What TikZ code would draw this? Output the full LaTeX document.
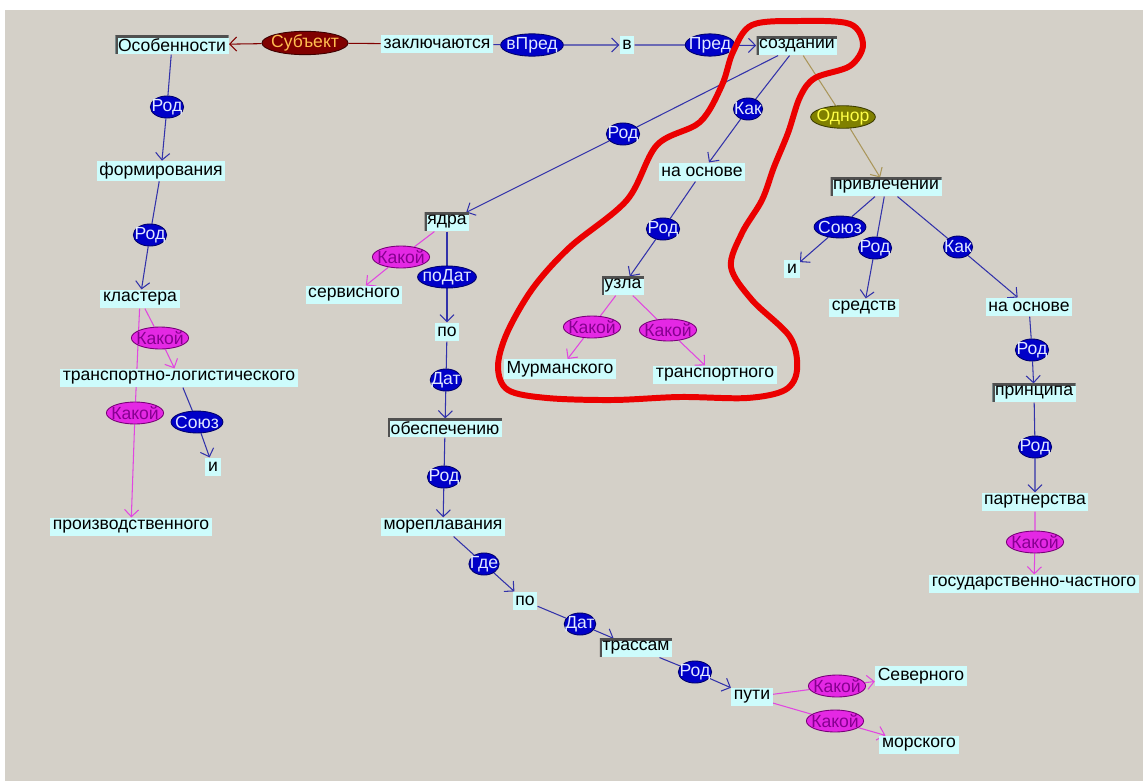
\documentclass[tikz,border=0pt]{standalone}
\usepackage{fontspec}
\setmainfont{Liberation Sans}
\usetikzlibrary{shapes, arrows.meta}
\definecolor{bgc}{RGB}{212,208,200}
\definecolor{wordc}{RGB}{205,252,252}
\definecolor{framec}{RGB}{80,80,80}
\definecolor{relc}{RGB}{0,0,200}
\definecolor{relb}{RGB}{0,0,110}
\definecolor{reltext}{RGB}{225,232,255}
\definecolor{kakc}{RGB}{228,40,228}
\definecolor{kakb}{RGB}{120,0,120}
\definecolor{kaktext}{RGB}{135,0,145}
\definecolor{odnc}{RGB}{128,128,0}
\definecolor{odnb}{RGB}{60,60,0}
\definecolor{odntext}{RGB}{255,255,70}
\definecolor{subc}{RGB}{128,0,0}
\definecolor{subb}{RGB}{60,0,0}
\definecolor{subtext}{RGB}{255,190,80}
\definecolor{linec}{RGB}{50,50,170}
\definecolor{kakline}{RGB}{225,70,225}
\definecolor{odnline}{RGB}{170,150,90}
\definecolor{outc}{RGB}{235,0,0}
\pgfdeclarelayer{bg}
\pgfsetlayers{bg,main}
\tikzset{
    word/.style = {fill=wordc, inner xsep=1.5pt, inner ysep=1pt, minimum height=10.5pt},
    frm/.style = {word, path picture={\draw[framec, line width=2.4pt]
        (path picture bounding box.south west) |- (path picture bounding box.north east);}},
    lab/.style = {ellipse, draw, inner xsep=-2pt, inner ysep=0pt, minimum height=12.5pt, line width=0.5pt},
    rod/.style = {lab, fill=relc, draw=relb, text=reltext},
    kak/.style = {lab, fill=kakc, draw=kakb, text=kaktext},
    odn/.style = {lab, fill=odnc, draw=odnb, text=odntext},
    subj/.style = {lab, fill=subc, draw=subb, text=subtext},
    bl/.style = {draw=linec, line width=0.6pt, -{Straight Barb[length=4pt,width=8pt]}},
    mg/.style = {bl, draw=kakline},
    ol/.style = {bl, draw=odnline},
    dr/.style = {bl, draw=subc}
}

\begin{document}
\begin{tikzpicture}[x=0.02cm, y=-0.02cm, font=\fontsize{10}{12}\selectfont]
  \useasboundingbox (0,0) rectangle (1143,781);
  \begin{pgfonlayer}{bg}
    \fill[white] (0,0) rectangle (1143,781);
    \fill[bgc] (5,10) rectangle (1143,781);
  \end{pgfonlayer}

  % words
  \node[frm]  (osob)    at (172,45)  {Особенности};
  \node[word] (zakl)    at (437,44)  {заключаются};
  \node[word] (vv)      at (627,45)  {в};
  \node[frm]  (sozd)    at (797,46)  {создании};
  \node[word] (form)    at (161,171) {формирования};
  \node[word] (klast)   at (140,299) {кластера};
  \node[word] (trlog)   at (179,378) {транспортно-логистического};
  \node[word] (i1)      at (213,467) {и};
  \node[word] (proizv)  at (131,527) {производственного};
  \node[frm]  (yadra)   at (447,222) {ядра};
  \node[word] (servis)  at (354,295) {сервисного};
  \node[word] (po1)     at (447,332) {по};
  \node[frm]  (obesp)   at (445,428) {обеспечению};
  \node[word] (morepl)  at (443,527) {мореплавания};
  \node[word] (po2)     at (525,601) {по};
  \node[frm]  (trass)   at (636,648) {трассам};
  \node[word] (puti)    at (752,697) {пути};
  \node[word] (sever)   at (921,676) {Северного};
  \node[word] (morsk)   at (919,745) {морского};
  \node[word] (osnova1) at (702,172) {на основе};
  \node[frm]  (uzla)    at (623,286) {узла};
  \node[word] (murm)    at (560,369) {Мурманского};
  \node[word] (transp)  at (715,375) {транспортного};
  \node[frm]  (privl)   at (886,187) {привлечении};
  \node[word] (i2)      at (792,269) {и};
  \node[word] (sredstv) at (864,308) {средств};
  \node[word] (osnova2) at (1029,307) {на основе};
  \node[frm]  (princ)   at (1034,393) {принципа};
  \node[word] (partn)   at (1035,502) {партнерства};
  \node[word] (gchast)  at (1034,584) {государственно-частного};

  % relations
  \node[subj] (sb)    at (305,43)  {Субъект};
  \node[rod]  (vpred) at (532,45)  {вПред};
  \node[rod]  (pred)  at (710,45)  {Пред};
  \node[rod]  (r1)    at (167,107) {Род};
  \node[rod]  (r2)    at (150,235) {Род};
  \node[kak]  (k1)    at (160,338) {Какой};
  \node[kak]  (k2)    at (135,413) {Какой};
  \node[rod]  (sz1)   at (197,422) {Союз};
  \node[rod]  (r3)    at (623,134) {Род};
  \node[rod]  (kak1)  at (748,109) {Как};
  \node[odn]  (odn)   at (843,117) {Однор};
  \node[kak]  (k3)    at (401,257) {Какой};
  \node[rod]  (podat) at (447,277) {поДат};
  \node[rod]  (dat1)  at (446,380) {Дат};
  \node[rod]  (r4)    at (444,477) {Род};
  \node[rod]  (gde)   at (484,564) {Где};
  \node[rod]  (dat2)  at (580,624) {Дат};
  \node[rod]  (r5)    at (695,672) {Род};
  \node[kak]  (k4)    at (837,686) {Какой};
  \node[kak]  (k5)    at (835,721) {Какой};
  \node[rod]  (r6)    at (663,229) {Род};
  \node[kak]  (k6)    at (592,327) {Какой};
  \node[kak]  (k7)    at (668,330) {Какой};
  \node[rod]  (sz2)   at (840,227) {Союз};
  \node[rod]  (r7)    at (875,248) {Род};
  \node[rod]  (kak2)  at (958,247) {Как};
  \node[rod]  (r8)    at (1032,350) {Род};
  \node[rod]  (r9)    at (1035,447) {Род};
  \node[kak]  (k8)    at (1035,542) {Какой};

  \begin{pgfonlayer}{bg}
    \draw[dr] (zakl) -- (sb) -- (osob);
    \draw[bl] (zakl) -- (vpred) -- (vv);
    \draw[bl] (vv) -- (pred) -- (sozd);
    \draw[bl] (osob) -- (r1) -- (form);
    \draw[bl] (form) -- (r2) -- (klast);
    \draw[mg] (klast) -- (k1) -- (trlog);
    \draw[mg] (klast) -- (k2) -- (proizv);
    \draw[bl] (trlog) -- (sz1) -- (i1);
    \draw[bl] (sozd) -- (r3) -- (yadra);
    \draw[bl] (sozd) -- (kak1) -- (osnova1);
    \draw[ol] (sozd) -- (odn) -- (privl);
    \draw[mg] (yadra) -- (k3) -- (servis);
    \draw[bl] (yadra) -- (podat) -- (po1);
    \draw[bl] (po1) -- (dat1) -- (obesp);
    \draw[bl] (obesp) -- (r4) -- (morepl);
    \draw[bl] (morepl) -- (gde) -- (po2);
    \draw[bl] (po2) -- (dat2) -- (trass);
    \draw[bl] (trass) -- (r5) -- (puti);
    \draw[mg] (puti) -- (k4) -- (sever);
    \draw[mg] (puti) -- (k5) -- (morsk);
    \draw[bl] (osnova1) -- (r6) -- (uzla);
    \draw[mg] (uzla) -- (k6) -- (murm);
    \draw[mg] (uzla) -- (k7) -- (transp);
    \draw[bl] (privl) -- (sz2) -- (i2);
    \draw[bl] (privl) -- (r7) -- (sredstv);
    \draw[bl] (privl) -- (kak2) -- (osnova2);
    \draw[bl] (osnova2) -- (r8) -- (princ);
    \draw[bl] (princ) -- (r9) -- (partn);
    \draw[mg] (partn) -- (k8) -- (gchast);
  \end{pgfonlayer}

  % hand drawn outline
  \draw[outc, line width=3.4pt, line cap=round] plot[smooth cycle, tension=0.55] coordinates {
    (752,25) (800,21) (850,24) (863,45) (850,66) (815,78) (800,97) (788,133)
    (774,167) (762,200) (742,233) (731,267) (752,300) (790,337) (797,370)
    (785,390) (747,398) (680,397) (613,400) (547,398) (508,390) (498,367)
    (507,333) (533,288) (570,247) (627,200) (657,145) (700,122) (722,85) (733,52)};
\end{tikzpicture}
\end{document}
